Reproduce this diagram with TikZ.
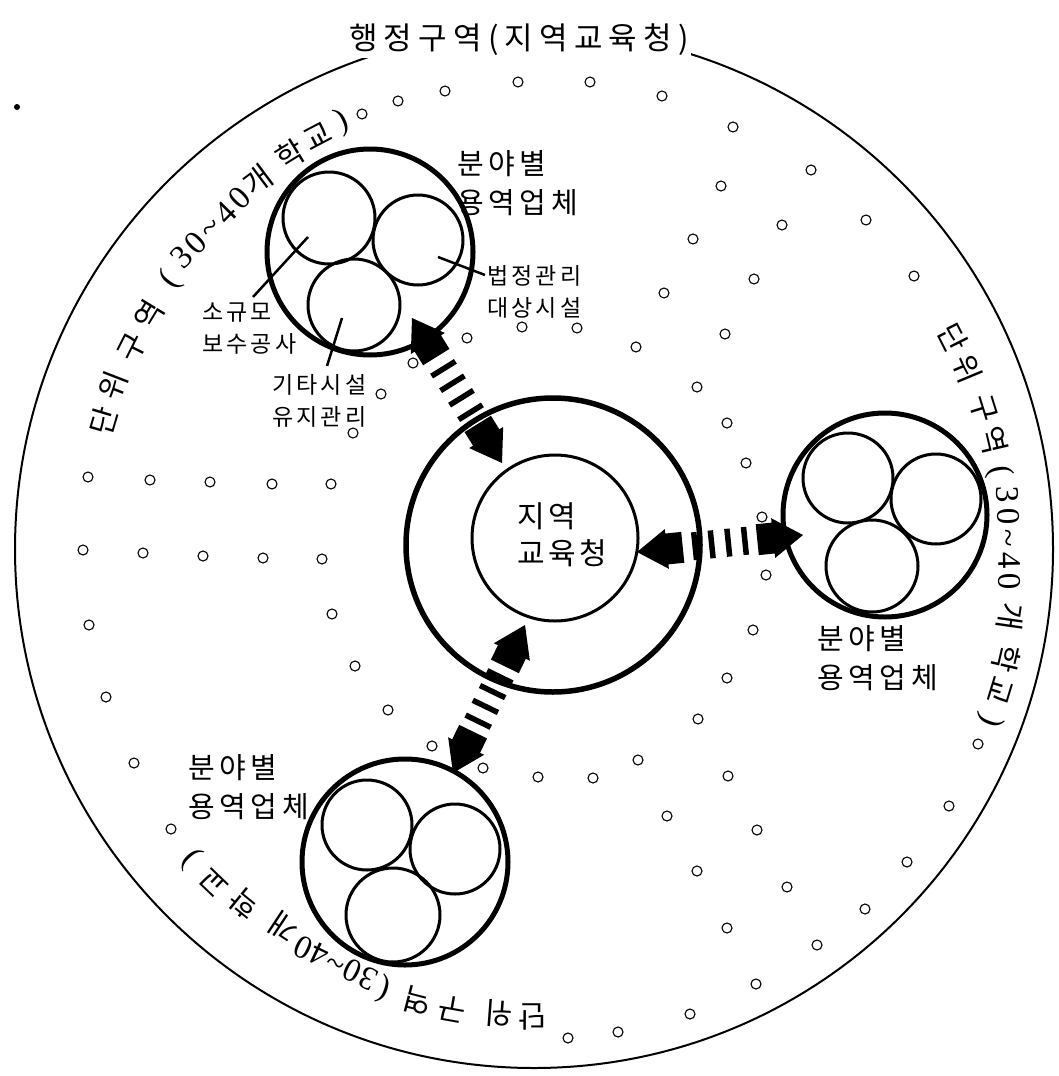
\documentclass[tikz,border=0pt]{standalone}
\usepackage{fontspec}
\newfontfamily\ttlfont[LetterSpace=20]{Noto Sans CJK KR}
\newfontfamily\lblfont[LetterSpace=16]{Noto Sans CJK KR}
\newfontfamily\smfont[LetterSpace=14]{Noto Sans CJK KR}
\newfontfamily\hubfont[LetterSpace=12]{Noto Sans CJK KR}
\newfontfamily\arcfont{Noto Sans CJK KR}
\newfontfamily\dgfont{Liberation Serif}
\newfontfamily\dgA[LetterSpace=12]{Liberation Serif}
\newfontfamily\dgB[LetterSpace=15]{Liberation Serif}
\newfontfamily\dgC[LetterSpace=4]{Liberation Serif}
\newcommand\dg{\dgfont\fontsize{33}{33}\selectfont}
\usetikzlibrary{calc}
\newcommand\blockhead[2]{%
  \coordinate (hb) at ($(#1)!30pt!(#2)$);
  \coordinate (he) at ($(#1)!46pt!(#2)$);
  \fill (#1) -- ($(hb)!20pt!90:(#2)$) -- ($(hb)!15.5pt!90:(#2)$) -- ($(he)!15.5pt!90:(#2)$)
    -- ($(he)!15.5pt!-90:(#2)$) -- ($(hb)!15.5pt!-90:(#2)$) -- ($(hb)!20pt!-90:(#2)$) -- cycle;}
\newcommand\stripedarrow[2]{%
  \blockhead{#1}{#2}\blockhead{#2}{#1}%
  \foreach \f in {0.35,0.45,0.55,0.65}{%
    \coordinate (bm) at ($(#1)!\f!(#2)$);
    \draw[line width=5.5pt] ($(bm)!14pt!90:(#2)$) -- ($(bm)!14pt!-90:(#2)$);}}
\begin{document}
\begin{tikzpicture}[x=1pt,y=-1pt,
  regionline/.style={circle,draw,line width=2pt,inner sep=0pt},
  hubout/.style={circle,draw,line width=5.5pt,inner sep=0pt},
  hubin/.style={circle,draw,line width=3pt,inner sep=0pt},
  clout/.style={circle,draw,line width=5pt,inner sep=0pt},
  clin/.style={circle,draw,line width=3pt,inner sep=0pt},
  dotring/.style={circle,draw,line width=1.1pt,inner sep=0pt,minimum size=10pt},
  leader/.style={line width=2.5pt},
  lbl/.style={inner sep=0pt,align=left,anchor=west},
  firmlbl/.style={lbl,font=\lblfont\fontsize{29}{39}\selectfont},
  smlbl/.style={lbl,font=\smfont\fontsize{23}{32}\selectfont},
  arcch/.style={inner sep=0pt,font=\arcfont\fontsize{30}{30}\selectfont}]
\useasboundingbox (0,0) rectangle (1058,1076);
\fill[white] (0,0) rectangle (1058,1076);

% administrative region
\node[regionline,minimum size=1038pt] (region) at (534,549) {};
\node[fill=white,inner sep=2pt,font=\ttlfont\fontsize{31}{31}\selectfont] (title) at (519,40) {행정구역(지역교육청)};
\node[circle,fill,inner sep=0pt,minimum size=6pt] (speck) at (17,107) {};

% small rings (schools)
\foreach \x/\y [count=\i] in {362/114,398/101,445/91,518/82,590/82,662/96,
  733/127,811/170,721/186,782/225,866/220,693/239,754/279,914/276,664/293,725/334,636/347,
  697/387,727/423,746/463,762/517,766/575,753/630,727/678,698/719,978/744,
  522/327,577/328,467/338,413/363,381/394,353/433,
  88/477,150/480,210/482,272/484,331/484,83/550,143/553,203/556,263/558,322/559,
  89/625,332/614,355/666,106/697,388/710,134/763,432/746,483/768,171/829,538/777,
  638/760,593/778,728/776,667/816,757/830,949/806,907/862,865/909,817/945,756/984,
  690/1014,618/1032,568/1038,697/871,787/887,727/928}
  \node[dotring] (dot\i) at (\x,\y) {};

% hub
\node[hubout,minimum size=294pt] (hub) at (553,545) {};
\node[hubin,minimum size=166pt] (hubin) at (555,538) {};
\node[lbl,font=\hubfont\fontsize{30}{37}\selectfont] (hubtxt) at (517,535) {지역\\교육청};

% clusters
\node[clout,minimum size=206pt] (tl) at (370,252) {};
\node[clin,minimum size=92pt] (tla) at (329,218) {};
\node[clin,minimum size=90pt] (tlb) at (418,240) {};
\node[clin,minimum size=92pt] (tlc) at (354,305) {};
\node[clout,minimum size=204pt] (rt) at (885,515) {};
\node[clin,minimum size=90pt] (rta) at (848,478) {};
\node[clin,minimum size=90pt] (rtb) at (936,499) {};
\node[clin,minimum size=92pt] (rtc) at (872,566) {};
\node[clout,minimum size=206pt] (bt) at (405,862) {};
\node[clin,minimum size=90pt] (bta) at (367,825) {};
\node[clin,minimum size=90pt] (btb) at (455,849) {};
\node[clin,minimum size=94pt] (btc) at (393,915) {};

% labels
\node[firmlbl] (tlfirm) at (457,183) {분야별\\용역업체};
\node[firmlbl] (rtfirm) at (817,658) {분야별\\용역업체};
\node[firmlbl] (btfirm) at (188,787) {분야별\\용역업체};
\node[smlbl] (small) at (202,329) {소규모\\보수공사};
\node[smlbl] (other) at (272,401) {기타시설\\유지관리};
\node[smlbl] (legal) at (487,292) {법정관리\\대상시설};

% leaders
\coordinate (smallstart) at (253,297); \coordinate (smallend) at (308,237);
\coordinate (otherstart) at (327,366); \coordinate (otherend) at (342,318);
\coordinate (legalstart) at (485,275); \coordinate (legalend) at (438,257);
\draw[leader] (smallstart) -- (smallend);
\draw[leader] (otherstart) -- (otherend);
\draw[leader] (legalstart) -- (legalend);

% arrows
\coordinate (a1) at (412,318); \coordinate (a2) at (502,463);
\coordinate (b1) at (637,552); \coordinate (b2) at (803,535);
\coordinate (c1) at (525,625); \coordinate (c2) at (453,773);
\stripedarrow{a1}{a2}
\stripedarrow{b1}{b2}
\stripedarrow{c1}{c2}

% curved labels
\foreach \a/\r/\ch [count=\i] in {163.4/449/단,158.8/452/위,153.4/449/구,148.7/451/역,
  143.5/452/{\dg(},126.8/461/개,121.7/463/학,117.7/466/교,114.2/468/{\dg)}}
  \node[arcch,rotate=\a-90] (tlt\i) at ({534+\r*cos(\a)},{549-\r*sin(\a)}) {\ch};
\node[inner sep=0pt,rotate=45.2,font=\dgA\fontsize{33}{33}\selectfont] (tlnum)
  at ({534+456*cos(135.2)},{549-456*sin(135.2)}) {30\textasciitilde40};
\foreach \a/\r/\ch [count=\i] in {26.8/469/단,22.6/469/위,17.4/471/구,13.3/472/역,
  9.4/472/{\dg(},-8.1/481/개,-13.0/485/학,-17.0/487/교,-20.6/487/{\dg)}}
  \node[arcch,rotate=\a-90] (rtt\i) at ({534+\r*cos(\a)},{549-\r*sin(\a)}) {\ch};
\node[inner sep=0pt,rotate=-88.7,font=\dgB\fontsize{33}{33}\selectfont] (rtnum)
  at ({534+475*cos(1.3)},{549-475*sin(1.3)}) {30\textasciitilde40};
\foreach \a/\r/\ch [count=\i] in {-90.2/468/단,-94.3/466/위,-100.1/467/구,-104.5/467/역,
  -108.8/465/{\dg(},-123.5/454/개,-129.2/458/학,-133.8/462/교,-137.9/462/{\dg)}}
  \node[arcch,rotate=\a-90] (btt\i) at ({534+\r*cos(\a)},{549-\r*sin(\a)}) {\ch};
\node[inner sep=0pt,rotate=-205.6,font=\dgC\fontsize{33}{33}\selectfont] (btnum)
  at ({534+459*cos(-115.6)},{549-459*sin(-115.6)}) {30\textasciitilde40};
\end{tikzpicture}
\end{document}
